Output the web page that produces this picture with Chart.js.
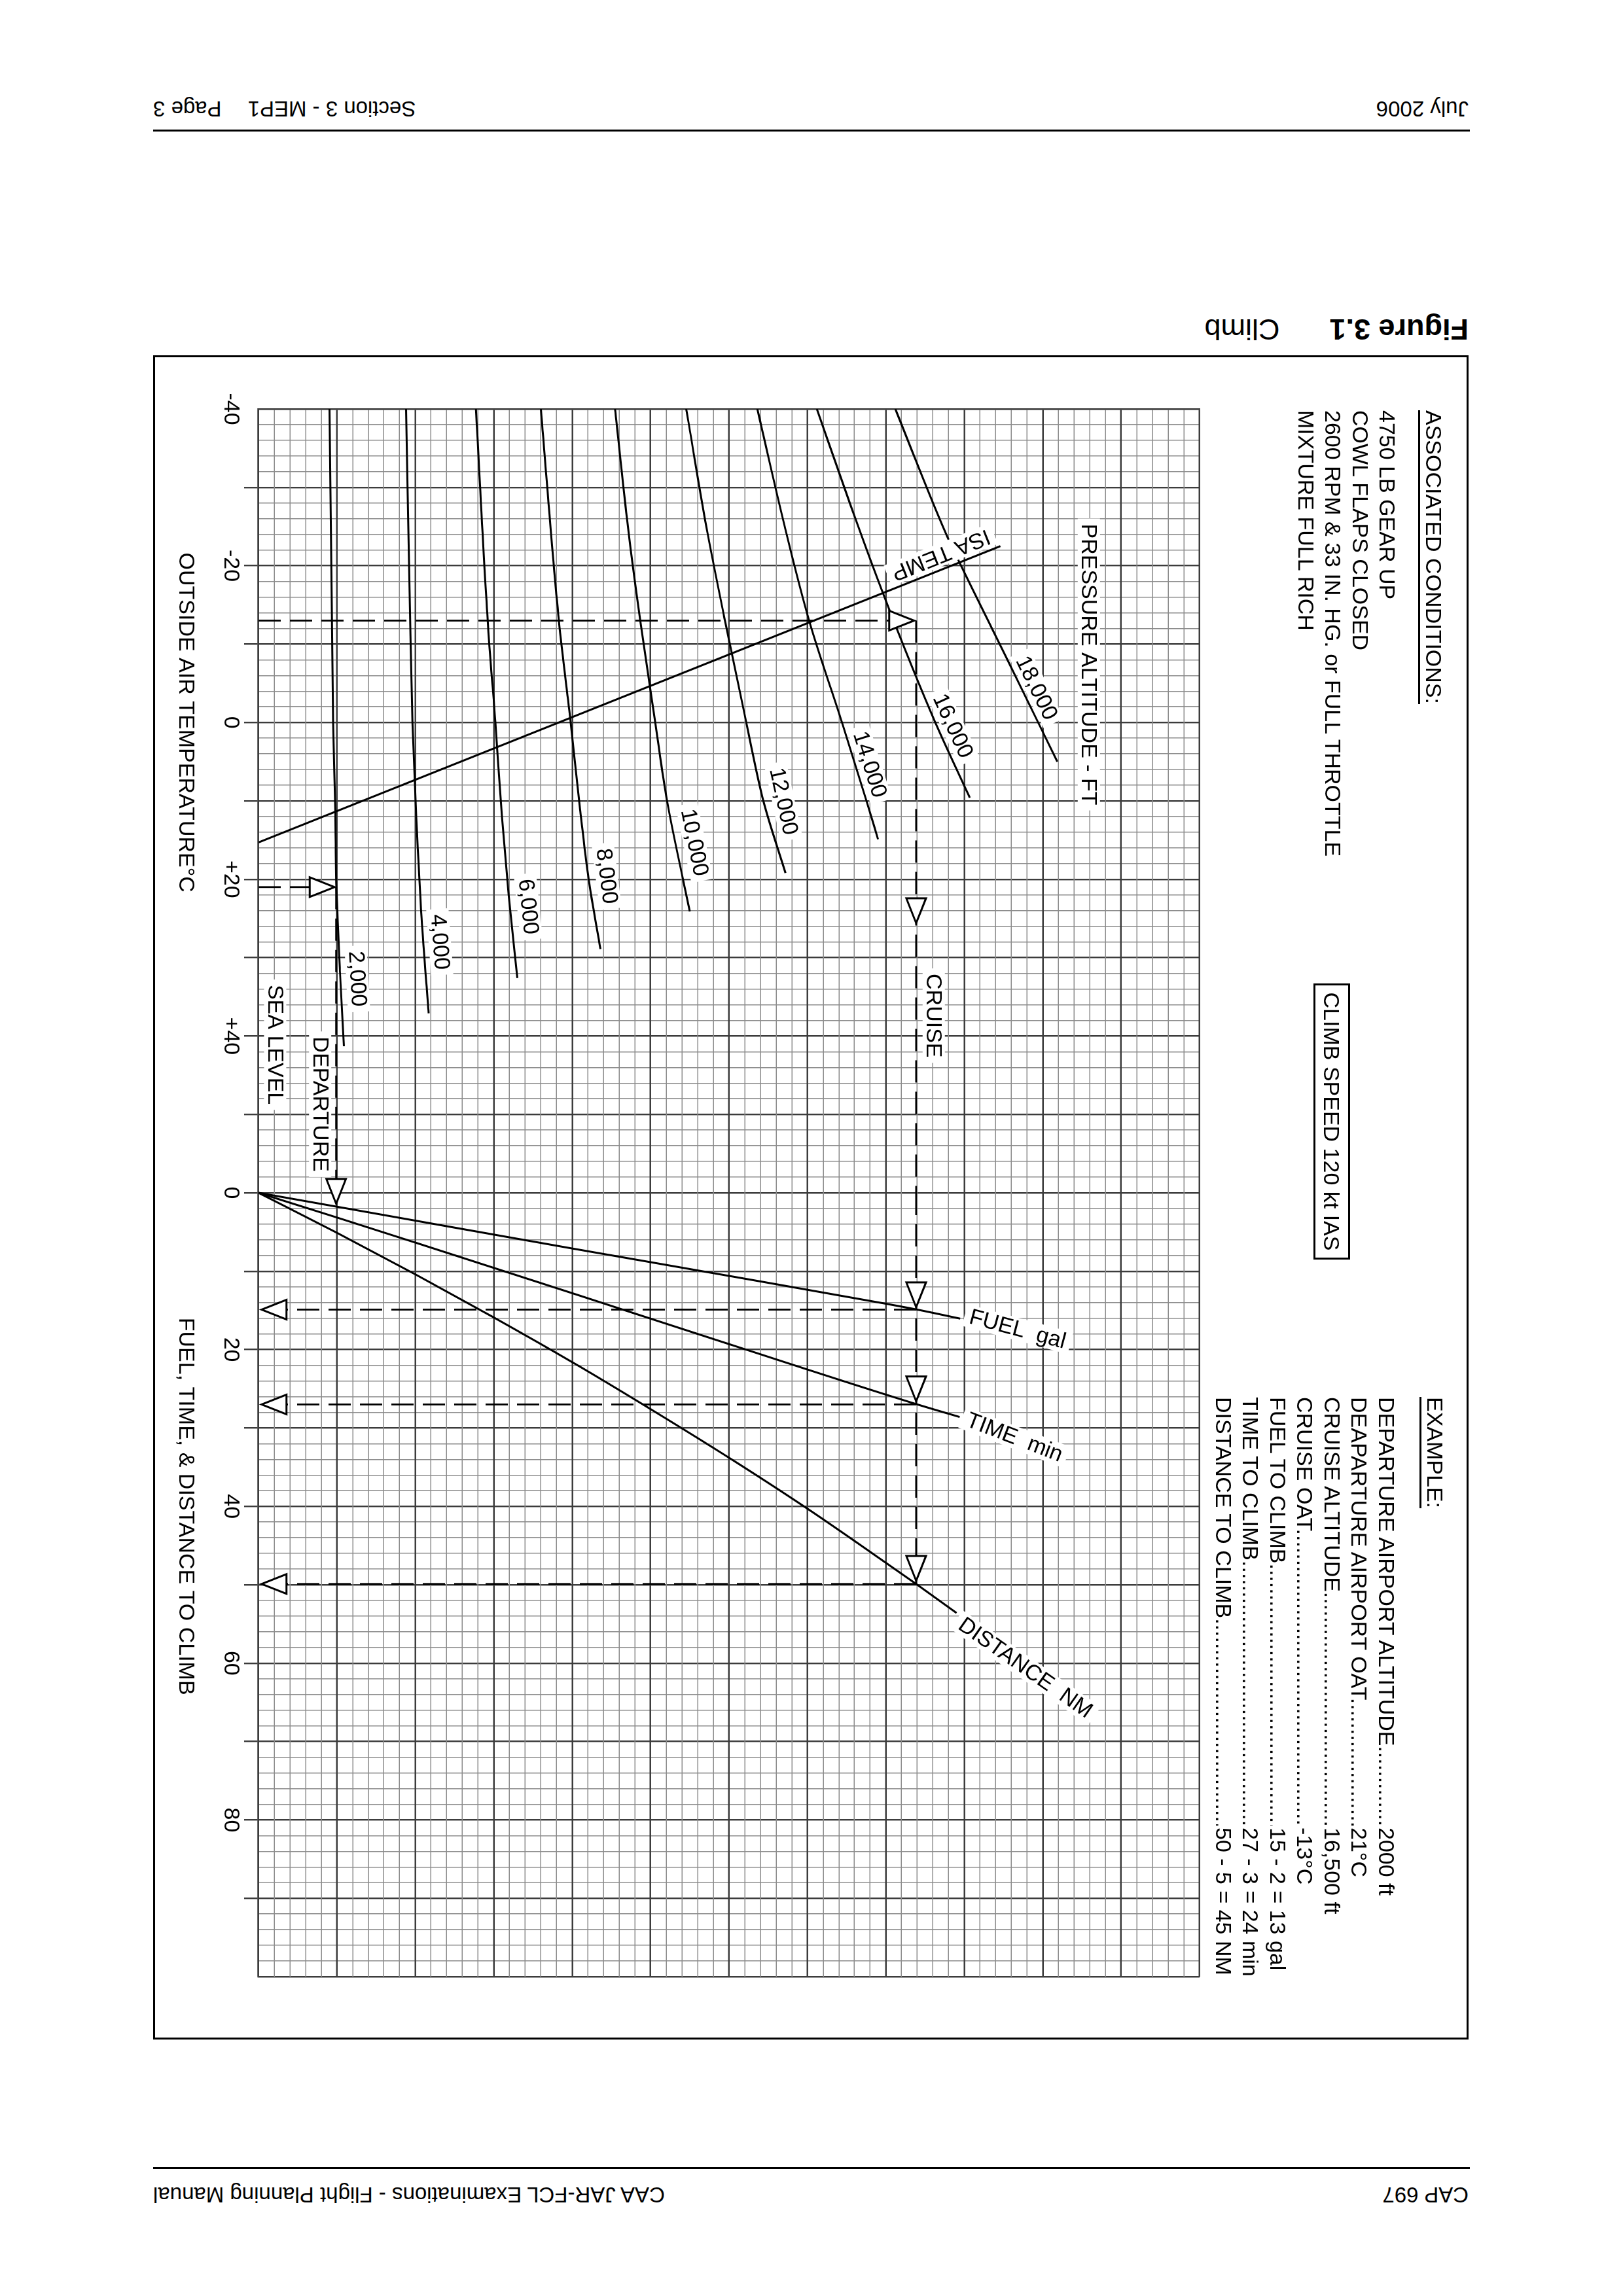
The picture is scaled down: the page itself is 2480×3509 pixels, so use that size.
<!DOCTYPE html>
<html>
<head>
<meta charset="utf-8">
<title>Figure 3.1 Climb</title>
<script src="https://cdn.jsdelivr.net/npm/chart.js@4.4.1/dist/chart.umd.min.js"></script>
<style>
html,body{margin:0;padding:0;background:#fff;}
body{width:2480px;height:3509px;position:relative;overflow:hidden;font-family:"Liberation Sans",Arial,Helvetica,sans-serif;color:#000;}
.flip{position:absolute;left:234px;width:2010px;transform:rotate(180deg);transform-origin:50% 50%;white-space:nowrap;display:flex;justify-content:space-between;align-items:flex-start;}
.rule{position:absolute;left:234px;width:2012px;height:3px;background:#000;}
#panel{position:absolute;left:-48px;top:825px;width:2574px;height:2010px;transform:rotate(90deg);transform-origin:50% 50%;background:#fff;}
#frame{position:absolute;left:0;top:0;width:2574px;height:2010px;box-sizing:border-box;border:3px solid #000;pointer-events:none;}
#panel canvas{position:absolute;left:0;top:0;}
.t{position:absolute;font-size:34px;line-height:41.5px;height:41.5px;white-space:nowrap;}
.u{text-decoration:underline;text-decoration-thickness:3px;text-underline-offset:9px;}
.lead{overflow:hidden;width:655px;}
#speed{position:absolute;left:960px;top:181px;width:422px;height:56px;box-sizing:border-box;border:3px solid #000;font-size:34px;line-height:50px;text-align:center;white-space:nowrap;}
</style>
</head>
<body>
<div class="flip" style="top:149.6px;height:33px;font-size:33px;line-height:33px;">
  <span>July 2006</span><span>Section 3 - MEP1<span style="margin-left:40px">Page 3</span></span>
</div>
<div class="rule" style="top:198px"></div>
<div class="flip" style="top:480.7px;height:45px;font-size:45px;line-height:45px;justify-content:flex-start;">
  <span style="font-weight:bold">Figure 3.1</span><span style="margin-left:76px">Climb</span>
</div>

<div id="panel">
  <canvas id="c" width="2574" height="2010" style="width:2574px;height:2010px"></canvas>

  <div class="t" style="left:84px;top:32.7px"><span class="u">ASSOCIATED CONDITIONS:</span></div>
  <div class="t" style="left:84px;top:103.7px">4750 LB GEAR UP</div>
  <div class="t" style="left:84px;top:145.2px">COWL FLAPS CLOSED</div>
  <div class="t" style="left:84px;top:186.7px">2600 RPM &amp; 33 IN. HG. or FULL THROTTLE</div>
  <div class="t" style="left:84px;top:228.2px">MIXTURE FULL RICH</div>

  <div id="speed">CLIMB SPEED 120 kt IAS</div>

  <div class="t" style="left:1592px;top:31.2px"><span class="u">EXAMPLE:</span></div>
  <div class="t lead" style="left:1592px;top:105.2px">DEPARTURE AIRPORT ALTITUDE..................................................................</div>
  <div class="t" style="left:2250px;top:105.2px">2000 ft</div>
  <div class="t lead" style="left:1592px;top:146.7px">DEAPARTURE AIRPORT OAT..................................................................</div>
  <div class="t" style="left:2250px;top:146.7px">21°C</div>
  <div class="t lead" style="left:1592px;top:188.2px">CRUISE ALTITUDE..................................................................</div>
  <div class="t" style="left:2250px;top:188.2px">16,500 ft</div>
  <div class="t lead" style="left:1592px;top:229.7px">CRUISE OAT..................................................................</div>
  <div class="t" style="left:2250px;top:229.7px">-13°C</div>
  <div class="t lead" style="left:1592px;top:271.2px">FUEL TO CLIMB..................................................................</div>
  <div class="t" style="left:2250px;top:271.2px">15 - 2 = 13 gal</div>
  <div class="t lead" style="left:1592px;top:312.7px">TIME TO CLIMB..................................................................</div>
  <div class="t" style="left:2250px;top:312.7px">27 - 3 = 24 min</div>
  <div class="t lead" style="left:1592px;top:354.2px">DISTANCE TO CLIMB..................................................................</div>
  <div class="t" style="left:2250px;top:354.2px">50 - 5 = 45 NM</div>

  <div id="frame"></div>
</div>

<div class="rule" style="top:3312px"></div>
<div class="flip" style="top:3337.6px;height:33px;font-size:33px;line-height:33px;">
  <span>CAP 697</span><span>CAA JAR-FCL Examinations - Flight Planning Manual</span>
</div>

<script>
// ---------- tick labels ----------
const oatTickValues = [-40, -20, 0, 20, 40];
const oatTickLabels = ['-40', '-20', '0', '+20', '+40'];
const fuelTickValues = [0, 20, 40, 60, 80];
const fuelTickLabels = ['0', '20', '40', '60', '80'];

// ---------- pressure altitude curves: [OAT °C, chart height units] ----------
const altitudeNames = ['2,000', '4,000', '6,000', '8,000', '10,000', '12,000', '14,000', '16,000', '18,000'];
const alt2000  = [[-40, 4.53], [-13, 4.68], [0, 4.76], [11.6, 4.9], [21, 4.97], [32, 5.2], [41.3, 5.45]];
const alt4000  = [[-40, 9.41], [-13, 9.67], [0, 9.82], [12, 10.06], [25, 10.4], [37.1, 10.85]];
const alt6000  = [[-40, 13.86], [-13, 14.61], [0, 15.1], [12, 15.52], [22, 15.95], [32.6, 16.5]];
const alt8000  = [[-40, 18.0], [-13, 19.15], [0, 19.9], [11, 20.5], [20, 21.05], [28.9, 21.8]];
const alt10000 = [[-40, 22.73], [-25, 23.55], [-12.9, 24.35], [0, 25.3], [10, 26.05], [24.1, 27.5]];
const alt12000 = [[-40, 27.27], [-25, 28.55], [-12.9, 29.75], [0, 31.1], [10.1, 32.2], [19.2, 33.6]];
const alt14000 = [[-40, 31.8], [-25, 33.55], [-12.7, 35.15], [0, 37.2], [10.1, 38.78], [14.9, 39.5]];
const alt16000 = [[-40, 35.6], [-27.7, 37.75], [-16.3, 39.85], [0, 43.15], [9.6, 45.35]];
const alt18000 = [[-40, 40.6], [-24.3, 43.78], [-20.5, 44.67], [-8, 47.75], [5, 50.93]];
const isaTemp  = [[-22.5, 47.3], [15.3, 0]];

// ---------- fuel / time / distance lines: [value, chart height units] ----------
const fuelGal = [[0, 0], [1.77, 5], [3.55, 10], [7.1, 20], [10.6, 30], [14.15, 40], [14.9, 42], [16.05, 44.74]];
const timeMin = [[0, 0], [3.15, 5], [6.35, 10], [12.8, 20], [19.3, 30], [26.95, 41.93], [28.6, 44.7]];
const distNm  = [[0, 0], [5.1, 5], [10.4, 10], [15.9, 15], [21.6, 20], [27.6, 25], [33.8, 30], [40.3, 35], [47.2, 40], [50.0, 42], [53.6, 44.5]];

// ---------- worked example (dashed paths) ----------
const exDepartureUp      = [[21, 0], [21, 3.3]];
const exDepartureAcross  = [[21, 4.95], [58.3, 4.95]];
const exCruiseUp         = [[-13, 0], [-13, 40.2]];
const exCruiseAcrossOat  = [[-13, 41.93], [60, 41.93]];
const exCruiseAcrossFuel = [[0, 41.93], [49.9, 41.93]];
const exFuelDown = [[14.9, 41.93], [14.9, 1.8]];
const exTimeDown = [[27, 41.93], [27, 1.8]];
const exDistDown = [[49.9, 41.93], [49.9, 1.8]];
const exArrowsOat  = [[21, 4.85, 'up'], [-13, 41.8, 'up'], [25.6, 41.93, 'right']];
const exArrowsFuel = [[1.4, 4.95, 'right'], [14.6, 41.93, 'right'], [26.6, 41.93, 'right'], [49.5, 41.93, 'right'],
                      [14.9, 0.2, 'down'], [27, 0.2, 'down'], [49.9, 0.2, 'down']];

// ---------- text annotations (data coordinates) ----------
const chartLabels = [
  {text: 'PRESSURE ALTITUDE - FT', axis: 'x', x: -7.4, y: 52.94, angle: 0},
  {text: 'ISA TEMP', axis: 'x', x: -21.4, y: 43.5, follow: 'isa'},
  {text: '2,000', axis: 'x', x: 32.7, y: 6.3, follow: 'alt0'},
  {text: '4,000', axis: 'x', x: 28.0, y: 11.56, follow: 'alt1'},
  {text: '6,000', axis: 'x', x: 23.5, y: 17.2, follow: 'alt2'},
  {text: '8,000', axis: 'x', x: 19.6, y: 22.2, follow: 'alt3'},
  {text: '10,000', axis: 'x', x: 15.3, y: 27.79, follow: 'alt4'},
  {text: '12,000', axis: 'x', x: 10.05, y: 33.47, follow: 'alt5'},
  {text: '14,000', axis: 'x', x: 5.35, y: 38.97, follow: 'alt6'},
  {text: '16,000', axis: 'x', x: 0.44, y: 44.27, follow: 'alt7'},
  {text: '18,000', axis: 'x', x: -4.4, y: 49.6, follow: 'alt8'},
  {text: 'CRUISE', axis: 'x', x: 37.4, y: 43.05, angle: 0},
  {text: 'DEPARTURE', axis: 'x', x: 48.7, y: 3.93, angle: 0},
  {text: 'SEA LEVEL', axis: 'x', x: 41.1, y: 1.06, angle: 0},
  {text: 'FUEL  gal', axis: 'xf', x: 17.4, y: 48.4, angle: -75},
  {text: 'TIME  min', axis: 'xf', x: 31.2, y: 48.2, angle: -69},
  {text: 'DISTANCE  NM', axis: 'xf', x: 60.6, y: 48.9, angle: -55}
];
const axisTitles = [
  {text: 'OUTSIDE AIR TEMPERATURE°C', axis: 'x', x: 0},
  {text: 'FUEL, TIME, & DISTANCE TO CLIMB', axis: 'xf', x: 40}
];
const fuelZeroOat = 60; // fuel axis 0 sits at the +60 °C grid line

// ---------- chart ----------
const FONT = '"Liberation Sans", Arial, Helvetica, sans-serif';
Chart.defaults.font.family = FONT;
Chart.defaults.font.size = 34;
Chart.defaults.color = '#000';

const toXY = a => a.map(p => ({x: p[0], y: p[1]}));
const solid = (label, pts, axis, smooth) => ({
  label, data: toXY(pts), xAxisID: axis, yAxisID: 'y', showLine: true,
  pointRadius: 0, pointHoverRadius: 0, borderColor: '#000', borderWidth: 3, fill: false,
  tension: 0, cubicInterpolationMode: smooth ? 'monotone' : 'default'
});
const dashed = (label, pts, axis) => Object.assign(solid(label, pts, axis, false), {borderDash: [34, 14], borderWidth: 2.8});

const altitudeCurves = [alt2000, alt4000, alt6000, alt8000, alt10000, alt12000, alt14000, alt16000, alt18000];
const datasets = [
  ...altitudeCurves.map((c, i) => solid('alt' + i, c, 'x', true)),
  solid('isa', isaTemp, 'x', false),
  solid('fuel', fuelGal, 'xf', true),
  solid('time', timeMin, 'xf', true),
  solid('dist', distNm, 'xf', true),
  dashed('exDepUp', exDepartureUp, 'x'),
  dashed('exDepAcross', exDepartureAcross, 'x'),
  dashed('exCruiseUp', exCruiseUp, 'x'),
  dashed('exCruiseOat', exCruiseAcrossOat, 'x'),
  dashed('exCruiseFuel', exCruiseAcrossFuel, 'xf'),
  dashed('exFuelDown', exFuelDown, 'xf'),
  dashed('exTimeDown', exTimeDown, 'xf'),
  dashed('exDistDown', exDistDown, 'xf')
];

const MAJOR = '#3c3c3c', MINOR = '#8c8c8c';
const isMajorX = v => Math.round(v) % 10 === 0;
const isMajorY = v => Math.round(v) % 5 === 0;
function tickText(v) {
  v = Math.round(v);
  let i = oatTickValues.indexOf(v);
  if (i >= 0) return oatTickLabels[i];
  i = fuelTickValues.indexOf(v - fuelZeroOat);
  if (i >= 0) return fuelTickLabels[i];
  return '';
}

function drawArrow(c, x, y, dir) {
  const L = 38, H = 15;
  let p;
  if (dir === 'up') p = [[x, y], [x - H, y + L], [x + H, y + L]];
  else if (dir === 'down') p = [[x, y], [x - H, y - L], [x + H, y - L]];
  else p = [[x, y], [x - L, y - H], [x - L, y + H]];
  c.beginPath();
  c.moveTo(p[0][0], p[0][1]); c.lineTo(p[1][0], p[1][1]); c.lineTo(p[2][0], p[2][1]);
  c.closePath();
  c.fillStyle = '#fff'; c.fill();
  c.lineWidth = 3; c.strokeStyle = '#000'; c.lineJoin = 'miter'; c.setLineDash([]); c.stroke();
}

function followAngle(chart, label, xv) {
  const ds = chart.data.datasets.find(d => d.label === label);
  const pts = ds.data.slice().sort((a, b) => a.x - b.x);
  let i = pts.findIndex(p => p.x >= xv);
  if (i < 0) i = pts.length - 1;
  if (i === 0) i = 1;
  const xs = chart.scales[ds.xAxisID], ys = chart.scales.y;
  const a = pts[i - 1], b = pts[i];
  return Math.atan2(ys.getPixelForValue(b.y) - ys.getPixelForValue(a.y),
                    xs.getPixelForValue(b.x) - xs.getPixelForValue(a.x));
}

const overlay = {
  id: 'overlay',
  afterDatasetsDraw(chart) {
    const c = chart.ctx, ys = chart.scales.y;
    c.save();
    exArrowsOat.forEach(a => drawArrow(c, chart.scales.x.getPixelForValue(a[0]), ys.getPixelForValue(a[1]), a[2]));
    exArrowsFuel.forEach(a => drawArrow(c, chart.scales.xf.getPixelForValue(a[0]), ys.getPixelForValue(a[1]), a[2]));
    c.font = '34px ' + FONT;
    chartLabels.forEach(l => {
      const px = chart.scales[l.axis].getPixelForValue(l.x), py = ys.getPixelForValue(l.y);
      const ang = l.follow ? followAngle(chart, l.follow, l.x) : l.angle * Math.PI / 180;
      const w = c.measureText(l.text).width;
      c.save();
      c.translate(px, py); c.rotate(ang);
      c.fillStyle = '#fff'; c.fillRect(-w / 2 - 8, -17, w + 16, 34);
      c.fillStyle = '#000'; c.textAlign = 'center'; c.textBaseline = 'middle';
      c.fillText(l.text, 0, 1);
      c.restore();
    });
    c.restore();
  },
  afterDraw(chart) {
    const c = chart.ctx;
    c.save();
    c.font = '34px ' + FONT; c.fillStyle = '#000'; c.textAlign = 'center'; c.textBaseline = 'middle';
    axisTitles.forEach(t => c.fillText(t.text, chart.scales[t.axis].getPixelForValue(t.x), chart.chartArea.bottom + 112));
    c.restore();
  }
};

new Chart(document.getElementById('c'), {
  type: 'scatter',
  data: {datasets},
  options: {
    responsive: false, animation: false, devicePixelRatio: 1,
    layout: {padding: {top: 411, right: 96, left: 0, bottom: 0}},
    plugins: {legend: {display: false}, tooltip: {enabled: false}},
    events: [],
    scales: {
      x: {
        type: 'linear', position: 'bottom', min: -40, max: 160,
        ticks: {stepSize: 2, autoSkip: false, maxRotation: 0, minRotation: 0, padding: 0, color: '#000',
                font: {size: 34}, callback: v => tickText(v)},
        grid: {
          color: ctx => (ctx.tick && isMajorX(ctx.tick.value)) ? MAJOR : MINOR,
          lineWidth: ctx => (ctx.tick && isMajorX(ctx.tick.value)) ? 2.4 : 1.5,
          tickColor: ctx => (ctx.tick && isMajorX(ctx.tick.value) && ctx.tick.value > -40 && ctx.tick.value < 160) ? MAJOR : 'rgba(0,0,0,0)',
          tickLength: 22, tickWidth: 2.4, drawTicks: true
        },
        border: {display: true, color: MAJOR, width: 2.4},
        afterFit: s => { s.height = 161; }
      },
      xf: {type: 'linear', display: false, min: -100, max: 100},
      y: {
        type: 'linear', position: 'left', min: 0, max: 60,
        ticks: {stepSize: 1, display: false},
        grid: {
          color: ctx => (ctx.tick && isMajorY(ctx.tick.value)) ? MAJOR : MINOR,
          lineWidth: ctx => (ctx.tick && isMajorY(ctx.tick.value)) ? 2.4 : 1.5,
          drawTicks: false
        },
        border: {display: true, color: MAJOR, width: 2.4},
        afterFit: s => { s.width = 82; }
      }
    }
  },
  plugins: [overlay]
});
</script>
</body>
</html>
